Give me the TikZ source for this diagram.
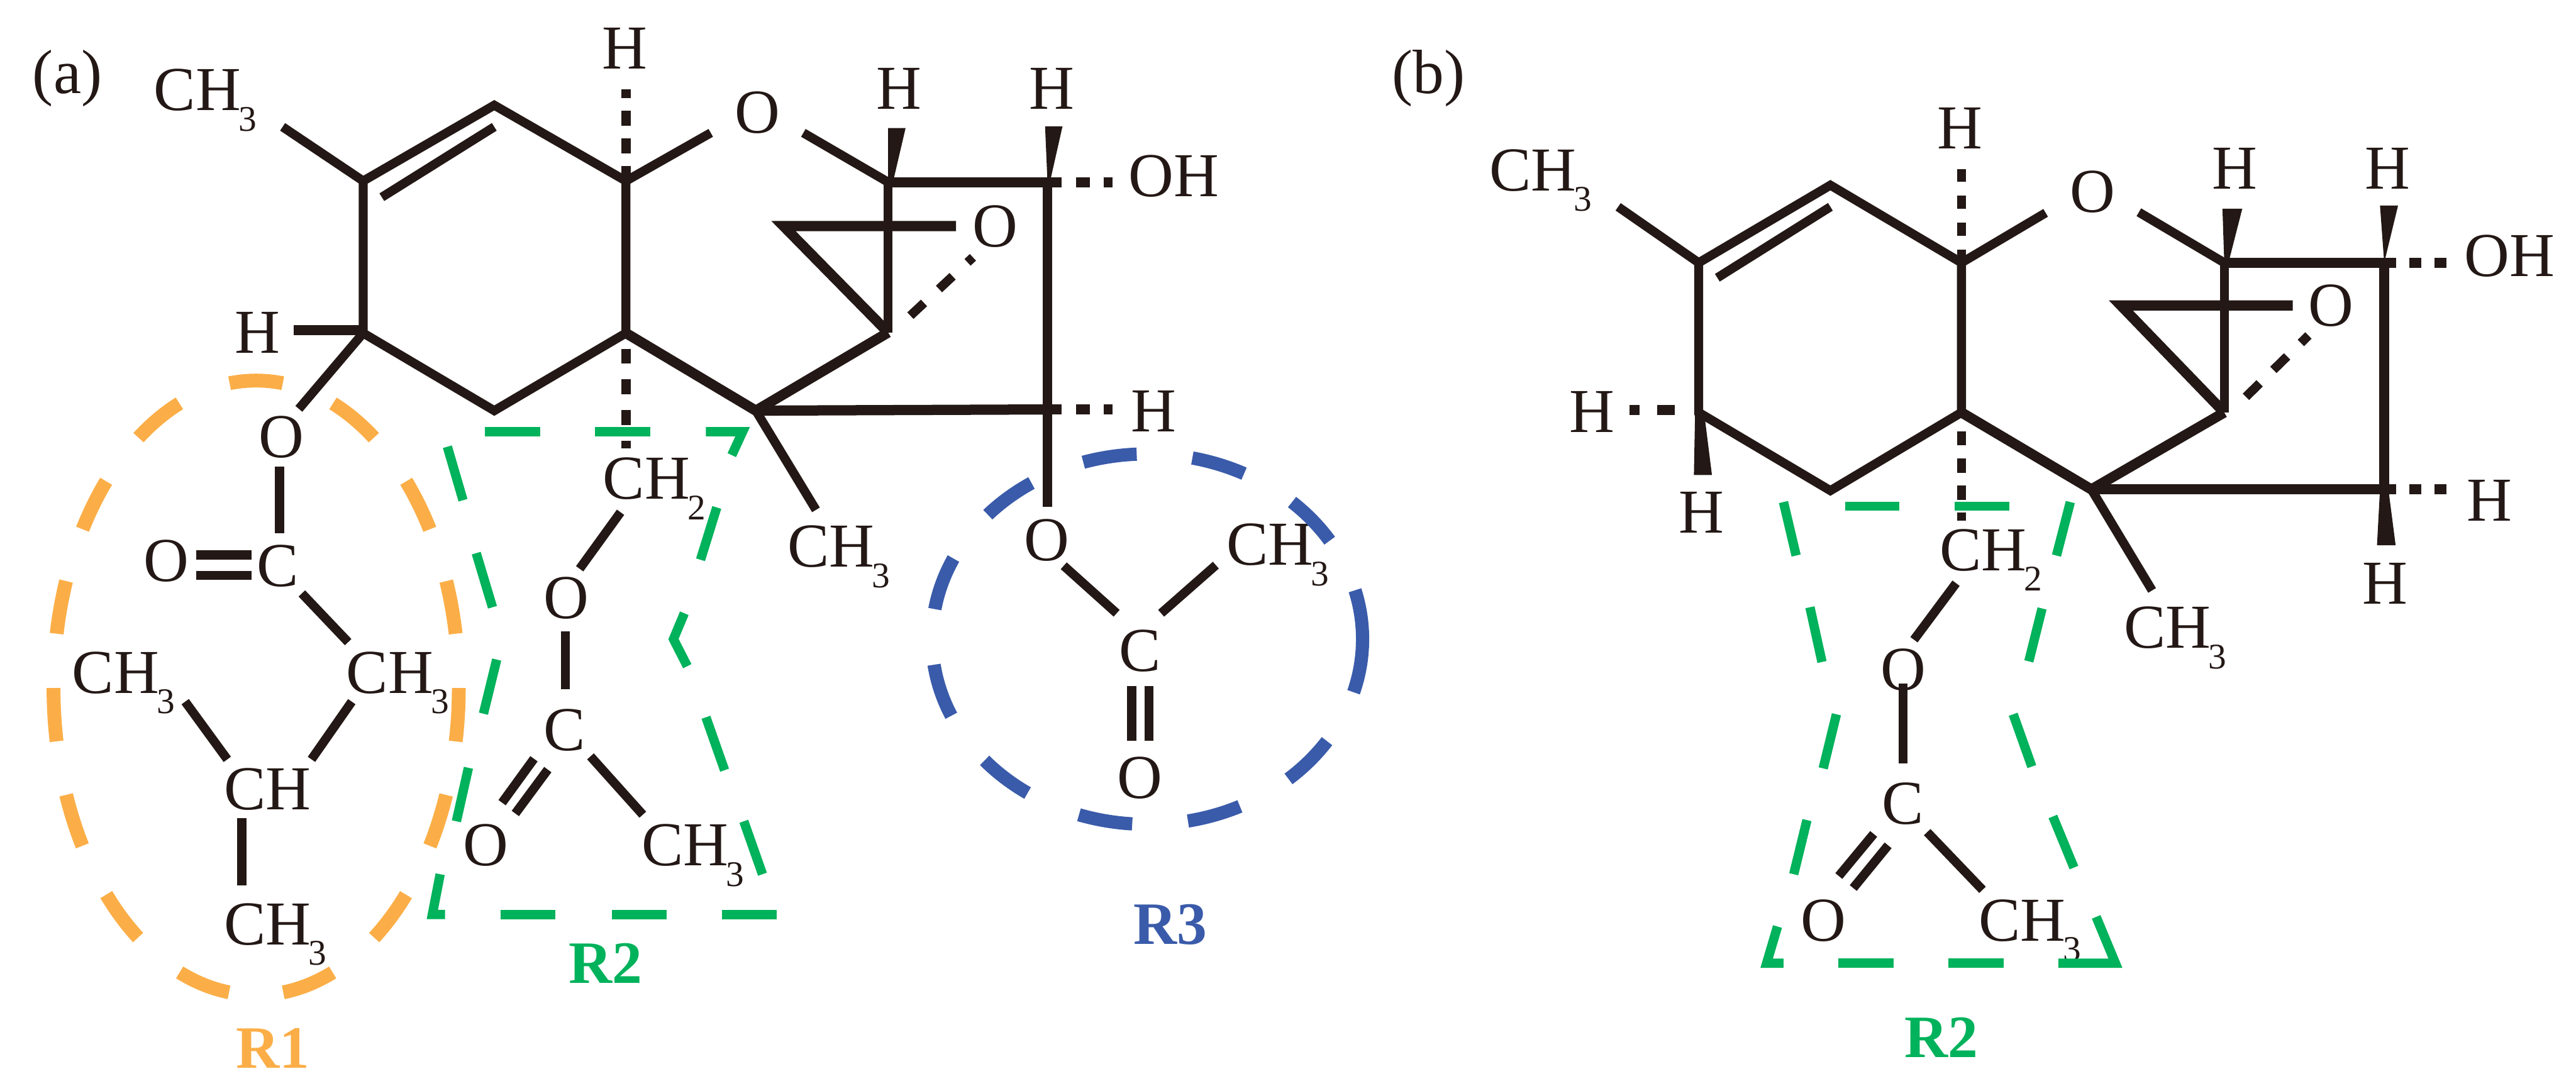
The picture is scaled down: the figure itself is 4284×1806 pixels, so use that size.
\documentclass[tikz,border=0pt]{standalone}
\usepackage{fontspec}
\setmainfont{Liberation Serif}
\definecolor{ink}{HTML}{231815}
\definecolor{rone}{HTML}{FBAE47}
\definecolor{rtwo}{HTML}{00B25B}
\definecolor{rthree}{HTML}{3A5BAA}
\newcommand{\subn}[1]{\kern-4pt\raisebox{-34pt}{\fontsize{60}{60}\selectfont #1}}
\newcommand{\CHt}{CH\subn{3}}
\newcommand{\CHd}{CH\subn{2}}
\tikzset{
  atom/.style={inner sep=0pt,outer sep=0pt,anchor=base,text=ink,font=\fontsize{104}{104}\selectfont},
  atomw/.style={atom,anchor=base west},
  rlabel/.style={inner sep=0pt,outer sep=0pt,anchor=base west,font=\fontsize{100}{100}\selectfont\bfseries},
  bond/.style={draw=ink,line width=15pt,line join=miter},
  boldbond/.style={draw=ink,line width=17pt,line join=miter},
  wedge/.style={fill=ink,draw=none},
  gseg/.style={draw=rtwo,line width=15.5pt,line join=miter},
}
\begin{document}
\begin{tikzpicture}[x=1pt,y=-1pt]
\useasboundingbox (0,0) rectangle (4284,1806);
% ===== Panel (a) coordinates
\coordinate (a1) at (604,301); \coordinate (a2) at (822,175); \coordinate (a3) at (1041,301);
\coordinate (a4) at (1041,554); \coordinate (a5) at (822,683); \coordinate (a6) at (604,554);
\coordinate (a7) at (1477,303); \coordinate (a8) at (1742,303); \coordinate (a9) at (1477,553);
\coordinate (a10) at (1257,683); \coordinate (a11) at (1742,681); \coordinate (a12) at (1303,376);
\coordinate (aMeEnd) at (470,211); \coordinate (aDb1) at (635,328); \coordinate (aDb2) at (822,211);
\coordinate (aHl) at (488,549); \coordinate (aHlv) at (604,549); \coordinate (aOl) at (497,680);
\coordinate (aHt) at (1041,148); \coordinate (aCH2t) at (1041,746);
\coordinate (aOa) at (1182,221); \coordinate (aOb) at (1336,221);
\coordinate (aOHe) at (1850,303); \coordinate (aHe) at (1850,681);
\coordinate (aVb) at (1742,843); \coordinate (aEp) at (1590,376);
\coordinate (aEd1) at (1514,525); \coordinate (aEd2) at (1618,428);
\coordinate (aMe2) at (1357,848);
% wedges (a)
\coordinate (aw1a) at (1477,213); \coordinate (aw1b) at (1506,213); \coordinate (aw1c) at (1485,303);
\coordinate (aw2a) at (1738,210); \coordinate (aw2b) at (1767,210); \coordinate (aw2c) at (1746,303);
% R1 bonds
\coordinate (r1a) at (465,776); \coordinate (r1b) at (465,887);
\coordinate (r1c) at (326,923); \coordinate (r1d) at (418,923);
\coordinate (r1e) at (326,957); \coordinate (r1f) at (418,957);
\coordinate (r1g) at (502,987); \coordinate (r1h) at (579,1068);
\coordinate (r1i) at (308,1167); \coordinate (r1j) at (378,1263);
\coordinate (r1k) at (585,1167); \coordinate (r1l) at (518,1263);
\coordinate (r1m) at (402,1361); \coordinate (r1n) at (402,1473);
% R2 bonds
\coordinate (r2a) at (1032,852); \coordinate (r2b) at (964,946);
\coordinate (r2c) at (940,1050); \coordinate (r2d) at (940,1146);
\coordinate (r2e) at (888,1262); \coordinate (r2f) at (835,1335);
\coordinate (r2g) at (911,1280); \coordinate (r2h) at (857,1353);
\coordinate (r2i) at (982,1258); \coordinate (r2j) at (1069,1355);
% R3 bonds
\coordinate (r3a) at (1769,941); \coordinate (r3b) at (1857,1020);
\coordinate (r3c) at (2022,940); \coordinate (r3d) at (1931,1020);
\coordinate (r3e) at (1882,1141); \coordinate (r3f) at (1882,1232);
\coordinate (r3g) at (1911,1141); \coordinate (r3h) at (1911,1232);
% ===== Panel (a) bonds
\draw[bond] (a1) -- (a2) -- (a3) -- (a4) -- (a5) -- (a6) -- cycle;
\draw[bond] (aMeEnd) -- (a1);
\draw[bond] (aDb1) -- (aDb2);
\draw[boldbond] (aHl) -- (aHlv);
\draw[bond] (a6) -- (aOl);
\draw[bond,line width=16pt,dash pattern=on 25pt off 21pt] (a3) -- (aHt);
\draw[bond,line width=16pt,dash pattern=on 25pt off 26pt,dash phase=25pt] (a4) -- (aCH2t);
\draw[bond] (a3) -- (aOa);
\draw[bond] (aOb) -- (a7);
\draw[boldbond] (a7) -- (a8);
\draw[boldbond,dash pattern=on 23pt off 24pt] (a8) -- (aOHe);
\draw[bond] (a7) -- (a9);
\draw[bond] (a8) -- (aVb);
\draw[boldbond] (aEp) -- (a12) -- (a9);
\draw[bond,dash pattern=on 31pt off 34pt] (aEd1) -- (aEd2);
\draw[boldbond] (a9) -- (a10) -- (a4);
\draw[boldbond] (a10) -- (a11);
\draw[boldbond,dash pattern=on 23pt off 24pt] (a11) -- (aHe);
\draw[bond] (a10) -- (aMe2);
\fill[wedge] (aw1a) -- (aw1b) -- (aw1c) -- (a7) -- cycle;
\fill[wedge] (aw2a) -- (aw2b) -- (aw2c) -- (a8) -- cycle;
\draw[bond] (r1a) -- (r1b);
\draw[bond] (r1c) -- (r1d);
\draw[bond] (r1e) -- (r1f);
\draw[bond] (r1g) -- (r1h);
\draw[bond] (r1i) -- (r1j);
\draw[bond] (r1k) -- (r1l);
\draw[bond] (r1m) -- (r1n);
\draw[bond] (r2a) -- (r2b);
\draw[bond] (r2c) -- (r2d);
\draw[bond] (r2e) -- (r2f);
\draw[bond] (r2g) -- (r2h);
\draw[bond] (r2i) -- (r2j);
\draw[bond] (r3a) -- (r3b);
\draw[bond] (r3c) -- (r3d);
\draw[bond] (r3e) -- (r3f);
\draw[bond] (r3g) -- (r3h);
% ===== Panel (a) text
\node[atom] (tA) at (112,155) {(a)};
\node[atomw] (aCH3) at (256,184) {\CHt};
\node[atom] (aHa) at (1039,115) {H};
\node[atom] (aHb) at (428,587) {H};
\node[atom] (aOx) at (1260,221) {O};
\node[atom] (aHc) at (1495,181) {H};
\node[atom] (aHd) at (1749,181) {H};
\node[atomw] (aOH) at (1877,327) {OH};
\node[atom] (aOe) at (1655,410) {O};
\node[atom] (aHf) at (1919,718) {H};
\node[atomw] (aCH3b) at (1310,943) {\CHt};
\node[atom] (r1O) at (468,761) {O};
\node[atom] (r1O2) at (277,967) {O};
\node[atom] (r1C) at (462,975) {C};
\node[atomw] (r1M1) at (120,1153) {\CHt};
\node[atomw] (r1M2) at (576,1153) {\CHt};
\node[atomw] (r1CH) at (373,1347) {CH};
\node[atomw] (r1M3) at (373,1571) {\CHt};
\node[atomw] (r2CH) at (1003,830) {\CHd};
\node[atom] (r2O) at (942,1029) {O};
\node[atom] (r2C) at (939,1248) {C};
\node[atom] (r2O2) at (808,1440) {O};
\node[atomw] (r2M) at (1067,1440) {\CHt};
\node[atom] (r3O) at (1741,932) {O};
\node[atomw] (r3M) at (2040,940) {\CHt};
\node[atom] (r3C) at (1896,1116) {C};
\node[atom] (r3O2) at (1896,1328) {O};
% ===== Panel (a) coloured outlines
\draw[rone,line width=23pt,dash pattern=on 89pt off 90.48pt,dash phase=134pt]
  (426,1655) arc[start angle=90,delta angle=360,x radius=337,y radius=511];
\draw[rthree,line width=22pt,dash pattern=on 90pt off 93pt]
  (1908,1063) ++(358,0) arc[start angle=0,delta angle=360,x radius=358,y radius=308];
\draw[gseg] (806,718) -- (898,718);
\draw[gseg] (989,718) -- (1081,718);
\draw[gseg] (1174,718) -- (1235,718) -- (1217,757);
\draw[gseg] (744,743) -- (770,832);
\draw[gseg] (792,920) -- (819,1010);
\draw[gseg] (826,1097) -- (804,1187);
\draw[gseg] (779,1277) -- (759,1366);
\draw[gseg] (732,1454) -- (719,1521) -- (740,1521);
\draw[gseg] (833,1521) -- (924,1521);
\draw[gseg] (1018,1521) -- (1109,1521);
\draw[gseg] (1201,1521) -- (1292,1521);
\draw[gseg] (1192,844) -- (1165,931);
\draw[gseg] (1138,1020) -- (1120,1063) -- (1143,1108);
\draw[gseg] (1174,1193) -- (1205,1281);
\draw[gseg] (1237,1366) -- (1268,1454);
\node[rlabel,text=rone] (lR1) at (393,1776) {R1};
\node[rlabel,text=rtwo] (lR2a) at (946,1635) {R2};
\node[rlabel,text=rthree] (lR3) at (1885,1570) {R3};
% ===== Panel (b) coordinates
\coordinate (b1) at (2825,437); \coordinate (b2) at (3044,308); \coordinate (b3) at (3262,437);
\coordinate (b4) at (3262,686); \coordinate (b5) at (3044,816); \coordinate (b6) at (2825,686);
\coordinate (b7) at (3699,437); \coordinate (b8) at (3965,437); \coordinate (b9) at (3699,686);
\coordinate (b10) at (3478,814); \coordinate (b11) at (3965,814); \coordinate (b12) at (3527,508);
\coordinate (bMeEnd) at (2691,344); \coordinate (bDb1) at (2856,462); \coordinate (bDb2) at (3044,344);
\coordinate (bHt) at (3262,281); \coordinate (bCH2t) at (3262,866);
\coordinate (bOa) at (3402,354); \coordinate (bOb) at (3557,353);
\coordinate (bOHe) at (4072,437); \coordinate (bHe) at (4072,814);
\coordinate (bEp) at (3813,508); \coordinate (bEd1) at (3735,660); \coordinate (bEd2) at (3839,558);
\coordinate (bMe2) at (3579,982);
\coordinate (bLd1) at (2785,682); \coordinate (bLd2) at (2710,682);
\coordinate (bw1a) at (3696,347); \coordinate (bw1b) at (3729,347); \coordinate (bw1c) at (3706,437);
\coordinate (bw2a) at (3958,342); \coordinate (bw2b) at (3988,342); \coordinate (bw2c) at (3965,437);
\coordinate (bw3a) at (3953,907); \coordinate (bw3b) at (3984,907); \coordinate (bw3c) at (3972,814);
\coordinate (bw4a) at (2817,790); \coordinate (bw4b) at (2847,790); \coordinate (bw4c) at (2834,686);
\coordinate (bw3t) at (3958,814); \coordinate (bw4t) at (2819,686);
\coordinate (s2a) at (3253,970); \coordinate (s2b) at (3183,1064);
\coordinate (s2c) at (3165,1137); \coordinate (s2d) at (3165,1270);
\coordinate (s2e) at (3116,1387); \coordinate (s2f) at (3058,1457);
\coordinate (s2g) at (3140,1406); \coordinate (s2h) at (3082,1477);
\coordinate (s2i) at (3205,1384); \coordinate (s2j) at (3297,1480);
% ===== Panel (b) bonds
\draw[bond] (b1) -- (b2) -- (b3) -- (b4) -- (b5) -- (b6) -- cycle;
\draw[bond] (bMeEnd) -- (b1);
\draw[bond] (bDb1) -- (bDb2);
\draw[bond,dash pattern=on 22pt off 23pt] (b3) -- (bHt);
\draw[bond,dash pattern=on 24pt off 21pt,dash phase=14pt] (b4) -- (bCH2t);
\draw[bond] (b3) -- (bOa);
\draw[bond] (bOb) -- (b7);
\draw[boldbond] (b7) -- (b8);
\draw[boldbond,dash pattern=on 20pt off 22pt] (b8) -- (bOHe);
\draw[bond] (b7) -- (b9);
\draw[boldbond] (b8) -- (b11);
\draw[boldbond] (bEp) -- (b12) -- (b9);
\draw[bond,dash pattern=on 32pt off 32pt] (bEd1) -- (bEd2);
\draw[boldbond] (b9) -- (b10) -- (b4);
\draw[boldbond] (b10) -- (b11);
\draw[boldbond,dash pattern=on 20pt off 22pt] (b11) -- (bHe);
\draw[bond] (b10) -- (bMe2);
\draw[boldbond,dash pattern=on 29pt off 29pt] (bLd1) -- (bLd2);
\fill[wedge] (bw1a) -- (bw1b) -- (bw1c) -- (b7) -- cycle;
\fill[wedge] (bw2a) -- (bw2b) -- (bw2c) -- (b8) -- cycle;
\fill[wedge] (bw3a) -- (bw3b) -- (bw3c) -- (bw3t) -- cycle;
\fill[wedge] (bw4a) -- (bw4b) -- (bw4c) -- (bw4t) -- cycle;
\draw[bond] (s2a) -- (s2b);
\draw[bond] (s2c) -- (s2d);
\draw[bond] (s2e) -- (s2f);
\draw[bond] (s2g) -- (s2h);
\draw[bond] (s2i) -- (s2j);
% ===== Panel (b) text
\node[atom] (tB) at (2376,155) {(b)};
\node[atomw] (bCH3) at (2477,317) {\CHt};
\node[atom] (bHa) at (3259,247) {H};
\node[atom] (bOx) at (3480,353) {O};
\node[atom] (bHc) at (3716,314) {H};
\node[atom] (bHd) at (3971,314) {H};
\node[atomw] (bOH) at (4098,460) {OH};
\node[atom] (bOe) at (3876,542) {O};
\node[atom] (bHf) at (4140,866) {H};
\node[atom] (bHg) at (3966,1005) {H};
\node[atom] (bHh) at (2648,719) {H};
\node[atom] (bHi) at (2830,886) {H};
\node[atomw] (bCH3b) at (3532,1078) {\CHt};
\node[atomw] (s2CH) at (3226,949) {\CHd};
\node[atom] (s2O) at (3165,1148) {O};
\node[atom] (s2C) at (3165,1371) {C};
\node[atom] (s2O2) at (3032,1565) {O};
\node[atomw] (s2M) at (3291,1565) {\CHt};
% ===== Panel (b) coloured outline
\draw[gseg] (3069,842) -- (3159,842);
\draw[gseg] (3251,842) -- (3342,842);
\draw[gseg] (2966,835) -- (2987,924);
\draw[gseg] (3010,1010) -- (3030,1101);
\draw[gseg] (3054,1188) -- (3032,1278);
\draw[gseg] (3005,1364) -- (2983,1454);
\draw[gseg] (2956,1541) -- (2938,1602) -- (2966,1602);
\draw[gseg] (3057,1602) -- (3149,1602);
\draw[gseg] (3240,1602) -- (3332,1602);
\draw[gseg] (3423,1602) -- (3518,1602) -- (3486,1525);
\draw[gseg] (3443,835) -- (3420,924);
\draw[gseg] (3396,1012) -- (3374,1100);
\draw[gseg] (3348,1188) -- (3379,1275);
\draw[gseg] (3414,1358) -- (3449,1443);
\node[rlabel,text=rtwo] (lR2b) at (3167,1759) {R2};
\end{tikzpicture}
\end{document}
